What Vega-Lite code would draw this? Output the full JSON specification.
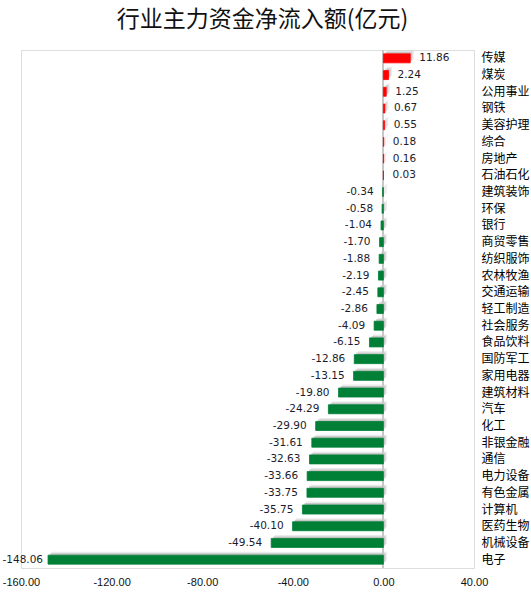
{
  "$schema": "https://vega.github.io/schema/vega-lite/v6.json",
  "autosize": {"type": "none"},
  "padding": {"left": 21, "top": 50, "right": 57, "bottom": 27},
  "width": 453,
  "height": 518,
  "background": "white",
  "title": {
    "text": "行业主力资金净流入额(亿元)",
    "font": "Noto Sans CJK SC",
    "fontSize": 23,
    "fontWeight": "normal",
    "color": "#111",
    "anchor": "middle",
    "dx": 15,
    "offset": 18
  },
  "data": {
    "values": [
      {"name": "传媒", "v": 11.86},
      {"name": "煤炭", "v": 2.24},
      {"name": "公用事业", "v": 1.25},
      {"name": "钢铁", "v": 0.67},
      {"name": "美容护理", "v": 0.55},
      {"name": "综合", "v": 0.18},
      {"name": "房地产", "v": 0.16},
      {"name": "石油石化", "v": 0.03},
      {"name": "建筑装饰", "v": -0.34},
      {"name": "环保", "v": -0.58},
      {"name": "银行", "v": -1.04},
      {"name": "商贸零售", "v": -1.70},
      {"name": "纺织服饰", "v": -1.88},
      {"name": "农林牧渔", "v": -2.19},
      {"name": "交通运输", "v": -2.45},
      {"name": "轻工制造", "v": -2.86},
      {"name": "社会服务", "v": -4.09},
      {"name": "食品饮料", "v": -6.15},
      {"name": "国防军工", "v": -12.86},
      {"name": "家用电器", "v": -13.15},
      {"name": "建筑材料", "v": -19.80},
      {"name": "汽车", "v": -24.29},
      {"name": "化工", "v": -29.90},
      {"name": "非银金融", "v": -31.61},
      {"name": "通信", "v": -32.63},
      {"name": "电力设备", "v": -33.66},
      {"name": "有色金属", "v": -33.75},
      {"name": "计算机", "v": -35.75},
      {"name": "医药生物", "v": -40.10},
      {"name": "机械设备", "v": -49.54},
      {"name": "电子", "v": -148.06}
    ]
  },
  "transform": [
    {"calculate": "replace(format(datum.v, '.2f'), '\u2212', '-')", "as": "lbl"}
  ],
  "encoding": {
    "y": {
      "field": "name",
      "type": "nominal",
      "sort": null,
      "scale": {"paddingInner": 0, "paddingOuter": 0},
      "axis": {
        "orient": "right",
        "title": null,
        "domain": false,
        "ticks": false,
        "tickSize": 0,
        "labelPadding": 7,
        "labelAlign": "left",
        "labelFont": "Noto Sans CJK SC",
        "labelFontSize": 12,
        "labelColor": "#000"
      }
    },
    "x": {
      "field": "v",
      "type": "quantitative",
      "scale": {"domain": [-160, 40], "nice": false, "zero": false},
      "axis": {
        "title": null,
        "values": [-160, -120, -80, -40, 0, 40],
        "labelExpr": "replace(format(datum.value, '.2f'), '\u2212', '-')",
        "grid": false,
        "domain": false,
        "ticks": false,
        "tickSize": 0,
        "labelPadding": 8,
        "labelFont": "Liberation Sans",
        "labelFontSize": 11,
        "labelColor": "#111",
        "labelFlush": false
      }
    }
  },
  "layer": [
    {
      "mark": {"type": "bar", "size": 9, "color": "#c4c4c4", "opacity": 0.35, "xOffset": 3.5, "yOffset": -3.5}
    },
    {
      "mark": {"type": "bar", "size": 9, "color": "#b0b0b0", "opacity": 0.6, "xOffset": 2, "yOffset": -2}
    },
    {
      "mark": {"type": "rule", "color": "#c8c8c8", "strokeWidth": 1},
      "encoding": {"x": {"datum": 0}, "y": null}
    },
    {
      "mark": {"type": "bar", "size": 9, "strokeWidth": 0.8},
      "encoding": {
        "color": {
          "condition": {"test": "datum.v > 0", "value": "#ff0000"},
          "value": "#007f37"
        },
        "stroke": {
          "condition": {"test": "datum.v > 0", "value": "#ff0000"},
          "value": "#007f37"
        }
      }
    },
    {
      "transform": [{"filter": "datum.v > 0"}],
      "mark": {"type": "text", "align": "left", "dx": 9, "font": "DejaVu Sans", "fontSize": 10.5, "color": "#1c1c2c"},
      "encoding": {"text": {"field": "lbl", "type": "nominal"}}
    },
    {
      "transform": [{"filter": "datum.v < 0 && datum.v > -140"}],
      "mark": {"type": "text", "align": "right", "dx": -9, "font": "DejaVu Sans", "fontSize": 10.5, "color": "#1c1c2c"},
      "encoding": {"text": {"field": "lbl", "type": "nominal"}}
    },
    {
      "transform": [{"filter": "datum.v <= -140"}],
      "mark": {"type": "text", "align": "right", "dx": -5, "font": "DejaVu Sans", "fontSize": 10.5, "color": "#1c1c2c"},
      "encoding": {"text": {"field": "lbl", "type": "nominal"}}
    }
  ]
}
